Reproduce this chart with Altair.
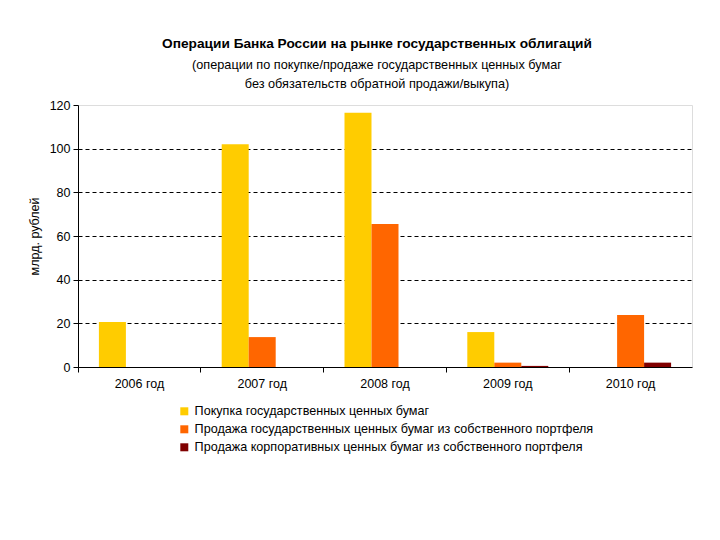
import altair as alt
import pandas as pd

years = ["2006 год", "2007 год", "2008 год", "2009 год", "2010 год"]
series = [
    "Покупка государственных ценных бумаг",
    "Продажа государственных ценных бумаг из собственного портфеля",
    "Продажа корпоративных ценных бумаг из собственного портфеля",
]
buy_gov = [20.6, 102.0, 116.5, 16.0, 0.0]
sell_gov = [0.0, 13.7, 65.5, 2.0, 23.8]
sell_corp = [0.0, 0.0, 0.0, 0.5, 2.0]
colors = ["#FFCC00", "#FF6600", "#800000"]
y_ticks = [0, 20, 40, 60, 80, 100, 120]

rows = []
for name, vals in zip(series, [buy_gov, sell_gov, sell_corp]):
    for yr, v in zip(years, vals):
        rows.append({"year": yr, "series": name, "value": v})
df = pd.DataFrame(rows)

FONT = "Liberation Sans"
W, H = 614, 262

chart = alt.Chart(df).mark_bar().encode(
    x=alt.X(
        "year:N", sort=years,
        scale=alt.Scale(paddingInner=0, paddingOuter=0),
        axis=alt.Axis(title=None, labelAngle=0, bandPosition=0, ticks=True,
                      tickSize=5, tickColor="black", tickWidth=1, domainColor="black",
                      labelFont=FONT, labelFontSize=12.5, labelColor="black", labelPadding=5),
    ),
    xOffset=alt.XOffset("series:N", sort=series,
                        scale=alt.Scale(paddingInner=0, paddingOuter=0.774)),
    y=alt.Y(
        "value:Q",
        scale=alt.Scale(domain=[0, 120]),
        axis=alt.Axis(title="млрд. рублей", values=y_ticks, grid=True, gridDash=[4, 3],
                      gridColor="black",
                      gridOpacity={"condition": {"test": "datum.value == 120 || datum.value == 0",
                                                 "value": 0}, "value": 1},
                      tickSize=5, tickColor="black",
                      domainColor="black", labelFont=FONT, labelFontSize=12.5,
                      labelColor="black", labelPadding=3, titleFont=FONT,
                      titleFontSize=12.5, titleFontWeight="normal", titleColor="black",
                      titlePadding=8),
    ),
    color=alt.Color(
        "series:N", sort=series,
        scale=alt.Scale(domain=series, range=colors),
        legend=alt.Legend(title=None, orient="none", legendX=100, legendY=300,
                          symbolType="square", symbolSize=64, symbolStrokeWidth=0,
                          labelFont=FONT, labelFontSize=12.6, labelColor="black",
                          rowPadding=5, labelLimit=500, symbolOpacity=1),
    ),
).properties(
    width=W, height=H,
    title=alt.TitleParams(
        text="Операции Банка России на рынке государственных облигаций",
        subtitle=["(операции по покупке/продаже государственных ценных бумаг",
                  "без обязательств обратной продажи/выкупа)"],
        font=FONT, fontSize=13.7, fontWeight="bold", color="black",
        subtitleFont=FONT, subtitleFontSize=12.7, subtitleColor="black",
        subtitlePadding=9, subtitleLineHeight=19, anchor="middle", dx=-8, offset=8,
    ),
    autosize=alt.AutoSizeParams(type="none"),
    padding={"left": 70, "top": 97, "right": 20, "bottom": 150},
).configure_view(stroke="black", strokeWidth=1).configure(background="white")

chart.save("out.html", embed_options={"renderer": "svg", "actions": False})
